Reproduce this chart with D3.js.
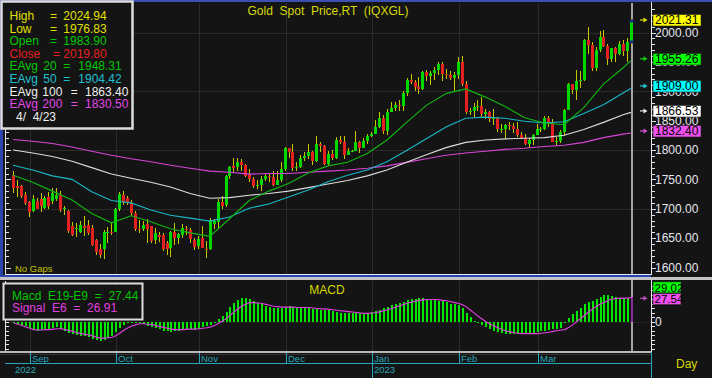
<!DOCTYPE html>
<html><head><meta charset="utf-8">
<script src="https://cdn.jsdelivr.net/npm/d3@7"></script>
<style>
html,body{margin:0;padding:0;background:#141414;overflow:hidden;}
svg{display:block;font-family:Arial,"Liberation Sans",sans-serif;}
text{white-space:pre;}
</style></head><body>
<svg id="c" width="712" height="378"></svg>
<script>
// ---------------- DATA ----------------
const dates = [
"2022-08-26","2022-08-29","2022-08-30","2022-08-31",
"2022-09-01","2022-09-02","2022-09-05","2022-09-06","2022-09-07","2022-09-08","2022-09-09","2022-09-12","2022-09-13","2022-09-14","2022-09-15","2022-09-16","2022-09-19","2022-09-20","2022-09-21","2022-09-22","2022-09-23","2022-09-26","2022-09-27","2022-09-28","2022-09-29","2022-09-30",
"2022-10-03","2022-10-04","2022-10-05","2022-10-06","2022-10-07","2022-10-10","2022-10-11","2022-10-12","2022-10-13","2022-10-14","2022-10-17","2022-10-18","2022-10-19","2022-10-20","2022-10-21","2022-10-24","2022-10-25","2022-10-26","2022-10-27","2022-10-28","2022-10-31",
"2022-11-01","2022-11-02","2022-11-03","2022-11-04","2022-11-07","2022-11-08","2022-11-09","2022-11-10","2022-11-11","2022-11-14","2022-11-15","2022-11-16","2022-11-17","2022-11-18","2022-11-21","2022-11-22","2022-11-23","2022-11-24","2022-11-25","2022-11-28","2022-11-29","2022-11-30",
"2022-12-01","2022-12-02","2022-12-05","2022-12-06","2022-12-07","2022-12-08","2022-12-09","2022-12-12","2022-12-13","2022-12-14","2022-12-15","2022-12-16","2022-12-19","2022-12-20","2022-12-21","2022-12-22","2022-12-23","2022-12-26","2022-12-27","2022-12-28","2022-12-29","2022-12-30",
"2023-01-02","2023-01-03","2023-01-04","2023-01-05","2023-01-06","2023-01-09","2023-01-10","2023-01-11","2023-01-12","2023-01-13","2023-01-16","2023-01-17","2023-01-18","2023-01-19","2023-01-20","2023-01-23","2023-01-24","2023-01-25","2023-01-26","2023-01-27","2023-01-30","2023-01-31",
"2023-02-01","2023-02-02","2023-02-03","2023-02-06","2023-02-07","2023-02-08","2023-02-09","2023-02-10","2023-02-13","2023-02-14","2023-02-15","2023-02-16","2023-02-17","2023-02-20","2023-02-21","2023-02-22","2023-02-23","2023-02-24","2023-02-27","2023-02-28",
"2023-03-01","2023-03-02","2023-03-03","2023-03-06","2023-03-07","2023-03-08","2023-03-09","2023-03-10","2023-03-13","2023-03-14","2023-03-15","2023-03-16","2023-03-17","2023-03-20","2023-03-21","2023-03-22","2023-03-23","2023-03-24","2023-03-27","2023-03-28","2023-03-29","2023-03-30","2023-03-31",
"2023-04-03","2023-04-04"];

const open = [
1757,1738,1738,1723,
1712,1696,1714,1716,1702,1720,1714,1716,1724,1700,1697,1670,1666,1661,1670,1672,1668,1646,1631,1631,1658,1661,
1661,1699,1723,1719,1710,1692,1666,1666,1674,1670,1647,1655,1656,1641,1634,1660,1650,1655,1665,1664,1647,
1636,1650,1632,1632,1674,1677,1712,1706,1756,1773,1771,1779,1774,1757,1751,1738,1740,1750,1755,1754,1741,1749,
1768,1803,1797,1769,1771,1786,1789,1797,1781,1810,1807,1777,1793,1787,1817,1814,1792,1798,1798,1814,1804,1815,
1824,1827,1839,1855,1833,1865,1871,1876,1875,1897,1920,1916,1908,1904,1932,1926,1931,1937,1946,1929,1928,1923,
1928,1950,1912,1865,1867,1873,1875,1861,1865,1853,1854,1836,1836,1842,1841,1835,1825,1821,1811,1817,
1826,1836,1836,1855,1847,1813,1815,1831,1868,1913,1902,1918,1919,1988,1979,1940,1970,1993,1977,1955,1973,1963,1980,
1969,1983.90];
const high = [
1765,1749,1740,1728,
1713,1723,1719,1726,1722,1729,1735,1735,1730,1705,1698,1678,1676,1680,1688,1681,1673,1648,1640,1663,1669,1675,
1702,1729,1730,1722,1715,1697,1681,1680,1683,1671,1667,1660,1658,1645,1662,1675,1659,1674,1670,1667,1650,
1653,1671,1645,1685,1683,1717,1722,1757,1773,1786,1787,1784,1776,1768,1754,1749,1756,1759,1761,1764,1764,1779,
1805,1804,1810,1780,1791,1796,1810,1798,1824,1813,1808,1798,1800,1822,1824,1823,1804,1800,1833,1815,1820,1827,
1830,1851,1865,1859,1870,1881,1881,1885,1901,1922,1929,1920,1925,1935,1937,1935,1942,1949,1949,1938,1935,1932,
1958,1960,1918,1871,1880,1885,1890,1870,1867,1870,1857,1845,1845,1847,1846,1847,1830,1827,1821,1828,
1844,1840,1858,1858,1852,1822,1834,1870,1914,1913,1937,1935,1989,2009,1983,1976,2003,2004,1980,1974,1975,1985,1987,
1990,2024.94];
const low = [
1727,1720,1719,1707,
1686,1694,1702,1695,1699,1700,1708,1714,1695,1690,1659,1654,1652,1659,1654,1656,1637,1622,1617,1614,1642,1655,
1660,1696,1707,1706,1688,1662,1658,1662,1642,1641,1640,1644,1628,1621,1618,1638,1640,1650,1655,1641,1629,
1632,1634,1616,1629,1665,1665,1700,1703,1750,1761,1764,1765,1754,1746,1735,1733,1731,1747,1746,1739,1740,1745,
1765,1787,1765,1765,1769,1781,1785,1775,1779,1797,1774,1775,1783,1784,1810,1784,1792,1796,1798,1795,1803,1810,
1822,1827,1838,1827,1825,1865,1866,1867,1867,1892,1912,1900,1896,1902,1918,1911,1920,1928,1918,1921,1919,1900,
1921,1909,1861,1860,1856,1866,1857,1853,1848,1842,1830,1829,1818,1834,1829,1822,1818,1809,1804,1809,
1826,1830,1834,1840,1813,1809,1812,1823,1868,1895,1885,1906,1918,1963,1935,1934,1967,1975,1944,1950,1950,1962,1960,
1950,1976.83];
const close = [
1736,1736,1721,1710,
1694,1717,1700,1705,1718,1705,1726,1724,1698,1702,1662,1656,1668,1672,1667,1658,1638,1626,1622,1660,1661,1660,
1699,1725,1712,1710,1692,1666,1664,1673,1665,1645,1658,1652,1631,1632,1660,1650,1657,1667,1663,1648,1635,
1649,1634,1629,1681,1680,1712,1705,1755,1771,1770,1779,1774,1755,1751,1738,1740,1750,1755,1754,1741,1749,1768,
1803,1797,1769,1771,1786,1789,1797,1781,1810,1807,1777,1793,1787,1817,1814,1792,1798,1798,1814,1804,1815,1824,
1827,1839,1855,1833,1865,1871,1876,1875,1897,1920,1916,1908,1904,1932,1926,1931,1937,1946,1929,1928,1923,1928,
1950,1912,1865,1867,1873,1875,1861,1865,1853,1854,1836,1836,1842,1841,1835,1825,1821,1811,1817,1826,
1836,1836,1855,1847,1813,1815,1831,1868,1913,1902,1918,1919,1988,1979,1940,1970,1993,1977,1955,1973,1963,1980,1969,
1984,2019.80];

const emaDates = ["2022-08-26","2022-09-02","2022-09-09","2022-09-16","2022-09-23","2022-09-30","2022-10-07","2022-10-14","2022-10-21","2022-10-28","2022-11-04","2022-11-11","2022-11-18","2022-11-25","2022-12-02","2022-12-09","2022-12-16","2022-12-23","2022-12-30","2023-01-06","2023-01-13","2023-01-20","2023-01-27","2023-02-03","2023-02-10","2023-02-17","2023-02-24","2023-03-03","2023-03-10","2023-03-17","2023-03-24","2023-03-31","2023-04-04"];
const ema20  = [1757,1745,1730,1715,1692,1676,1688,1678,1666,1659,1653,1683,1714,1730,1743,1761,1773,1779,1794,1817,1847,1876,1896,1904,1890,1874,1855,1846,1843,1872,1912,1940,1952];
const ema50  = [1774,1766,1756,1750,1729,1714,1710,1698,1689,1684,1679,1686,1701,1708,1720,1732,1746,1757,1766,1780,1799,1819,1839,1854,1856,1854,1849,1846,1848,1862,1877,1897,1905];
const ema100 = [1800,1795,1789,1781,1770,1759,1752,1745,1737,1726,1718,1719,1723,1726,1730,1736,1742,1748,1756,1766,1779,1792,1804,1813,1817,1819,1820,1821,1825,1835,1847,1860,1864];
const ema200 = [1818,1815,1811,1805,1798,1791,1785,1780,1774,1769,1764,1762,1759,1760,1760,1762,1764,1766,1769,1773,1779,1785,1791,1795,1798,1801,1803,1806,1808,1813,1821,1827,1829];

const macd = [
-2,-3,-4,-5,
-7,-9,-10,-9,-8,-8,-7,-6,-8,-10,-13,-14,-15,-16,-16,-17,-19,-21,-22,-20,-18,-16,
-12,-7,-4,-2,-1,0,-1,-3,-5,-6,-7,-8,-10,-11,-12,-11,-10,-9,-8,-8,-9,
-8,-6,-5,-4,-1,3,6,11,16,21,24,26,26,25,23,21,19,17,16,15,15,15,
16,17,16,15,16,15,15,14,14,13,13,13,12,11,10,10,10,9,9,9,8,9,
11,12,13,15,16,18,19,21,22,24,25,25,26,26,25,25,24,23,23,22,20,19,
18,15,10,5,1,-2,-4,-6,-8,-10,-12,-13,-14,-14,-14,-14,-14,-14,-13,-13,
-12,-11,-10,-9,-8,-8,-7,-1,4,8,12,15,19,22,23,25,27,29,29,28,27,26,26,
26,27.44];
const signal = [
-2,-3,-4.5,-6,
-7.5,-9,-9.5,-9.5,-9,-9,-8.5,-8,-8,-9,-10,-11,-12.5,-13.5,-14,-15,-16,-17.5,-18.5,-18.5,-18,-17.5,
-15.5,-12.5,-9.5,-7,-5,-3.5,-2.5,-2.5,-3,-3.5,-4.5,-5.5,-6.5,-7.5,-8.5,-9,-9,-9,-8.5,-8.5,-8.5,
-8,-7.5,-7,-6,-4.5,-2,0.5,3.5,7,11,14.5,17.5,19.5,21,21,20.5,20,19,18,17,16.5,16,
16,16,16,15.5,15.5,15.5,15.5,15,14.5,14,14,13.5,13,12.5,12,11.5,11,10.5,10,9.5,9,9,
9.5,10,11,12,13,14.5,16,17.5,19,20.5,21.5,22.5,23.5,24,24.5,24.5,24.5,24,23.5,23,22,21,
20,18.5,16,12.5,9,5.5,2.5,-0.5,-3,-5,-7,-9,-10.5,-11.5,-12.5,-13,-13.5,-13.5,-13.5,-13.5,
-13.5,-13,-12.5,-12,-11,-10,-9.5,-9,-6.5,-3.5,0,3.5,7,10.5,14,17,19.5,21.5,23.5,25,25.5,26,26,
26,26.91];

const priceTicks = [1600,1650,1700,1750,1800,1850,1900,1950,2000];
const priceGrid = [1700,1800,1900,2000];
const monthStarts = ["2022-09-01","2022-10-03","2022-11-01","2022-12-01","2023-01-02","2023-02-01","2023-03-01"];
const monthNames = ["Sep","Oct","Nov","Dec","Jan","Feb","Mar"];
const yearStarts = ["2022-08-26","2023-01-02"];
const yearNames = ["2022","2023"];

const lastValues = [2021.31,1955.26,1909.00,1866.53,1832.40];
const lastLabels = ["2021.31","1955.26","1909.00","1866.53","1832.40"];
const macdLastValues = [29.02,27.54];
const macdLastLabels = ["29.02","27.54"];

const legendNames  = ["High","Low","Open","Close","EAvg","EAvg","EAvg","EAvg"];
const legendPeriod = ["","","","","20","50","100","200"];
const legendValues = ["2024.94","1976.83","1983.90","2019.80","1948.31","1904.42","1863.40","1830.50"];
const legendDate = "4/  4/23";
const macdLegend = ["Macd  E19-E9  =  27.44","Signal  E6  =  26.91"];
const title = "Gold  Spot  Price,RT  (IQXGL)";

// ---------------- DRAW ----------------
const W = 712, H = 378;
const svg = d3.select("#c");
const x = d3.scalePoint().domain(dates).range([13, 631]);
const y = d3.scaleLinear().domain([1600, 2000]).range([267.5, 32.5]);
const ym = d3.scaleLinear().domain([0, 10]).range([321.5, 312.5]);

const C = {
  bg:"#141414", grid:"#2b2b2b", yellow:"#d8d800", green:"#00d800", red:"#e42020",
  wick:"#c8c800", e20:"#10b810", e50:"#18b8c8", e100:"#dcdcdc", e200:"#d844d8",
  axis:"#e6e6ee", cyan:"#2aa6b8", blue:"#2a44b0"
};

svg.append("rect").attr("width", W).attr("height", H).attr("fill", C.bg);

const grid = svg.append("g").attr("shape-rendering", "crispEdges");
grid.selectAll(".hg").data(priceGrid).join("line")
  .attr("x1", 5).attr("x2", 651).attr("y1", d => Math.round(y(d)) + 0.5).attr("y2", d => Math.round(y(d)) + 0.5)
  .attr("stroke", C.grid);
grid.selectAll(".vg").data(monthStarts).join("line")
  .attr("x1", d => Math.round(x(d)) + 1.5).attr("x2", d => Math.round(x(d)) + 1.5)
  .attr("y1", 3).attr("y2", 274).attr("stroke", C.grid);
grid.selectAll(".vg2").data(monthStarts).join("line")
  .attr("x1", d => Math.round(x(d)) + 1.5).attr("x2", d => Math.round(x(d)) + 1.5)
  .attr("y1", 281).attr("y2", 351).attr("stroke", C.grid);
grid.append("line").attr("x1", 5).attr("x2", 651).attr("y1", Math.round(ym(0)) + 0.5).attr("y2", Math.round(ym(0)) + 0.5)
  .attr("stroke", "#222");

// cursor line
const lastD = dates[dates.length - 1];
svg.append("rect").attr("x", Math.round(x(lastD)) + 0).attr("y", 3).attr("width", 2).attr("height", 349)
  .attr("fill", "#a4a4a4");

// candles
const cg = svg.append("g").attr("shape-rendering", "crispEdges");
dates.forEach((d, i) => {
  const cx = Math.round(x(d));
  cg.append("line").attr("x1", cx + 0.5).attr("x2", cx + 0.5)
    .attr("y1", y(high[i])).attr("y2", y(low[i])).attr("stroke", C.wick);
  const top = y(Math.max(open[i], close[i])), bot = y(Math.min(open[i], close[i]));
  cg.append("rect").attr("x", cx - 1).attr("width", 3)
    .attr("y", top).attr("height", Math.max(1, bot - top))
    .attr("fill", close[i] >= open[i] ? C.green : C.red);
});
// cursor markers on last candle
const li = dates.length - 1;
[open[li], close[li]].forEach(v => {
  svg.append("rect").attr("x", Math.round(x(lastD)) - 1.5).attr("y", y(v) - 1.5).attr("width", 4).attr("height", 3)
    .attr("fill", "#1c2a80");
});

// moving averages
const line = d3.line().x((d, i) => x(emaDates[i])).y(d => y(d));
[[ema200, C.e200], [ema100, C.e100], [ema50, C.e50], [ema20, C.e20]].forEach(([s, col]) => {
  svg.append("path").attr("d", line(s)).attr("fill", "none").attr("stroke", col).attr("stroke-width", 1.1);
});

// MACD bars
const mg = svg.append("g").attr("shape-rendering", "crispEdges");
mg.selectAll("rect").data(macd).join("rect")
  .attr("x", (d, i) => Math.round(x(dates[i])))
  .attr("width", 2)
  .attr("y", d => Math.min(ym(0), ym(d)))
  .attr("height", d => Math.max(1, Math.abs(ym(d) - ym(0))))
  .attr("fill", (d, i) => i === li ? "#8a2a9a" : "#00e800");
const sline = d3.line().x((d, i) => x(dates[i]) + 1).y(d => ym(d));
svg.append("path").attr("d", sline(signal)).attr("fill", "none").attr("stroke", "#e040e0").attr("stroke-width", 1.1);

// ---- frames ----
const fr = svg.append("g").attr("shape-rendering", "crispEdges");
fr.append("rect").attr("x", 0).attr("y", 0).attr("width", W).attr("height", 2).attr("fill", "#3c50b4");
fr.append("rect").attr("x", 0).attr("y", 0).attr("width", 3).attr("height", 277).attr("fill", C.blue);
fr.append("rect").attr("x", 0).attr("y", 274.5).attr("width", 651).attr("height", 2.5).attr("fill", C.blue);
fr.append("rect").attr("x", 0).attr("y", 277).attr("width", W).attr("height", 3).attr("fill", "#c4c4c4");
fr.append("line").attr("x1", 5.5).attr("x2", 5.5).attr("y1", 2).attr("y2", 274).attr("stroke", C.axis);
fr.append("line").attr("x1", 5).attr("x2", 651).attr("y1", 274).attr("y2", 274).attr("stroke", C.axis);
fr.append("line").attr("x1", 651.5).attr("x2", 651.5).attr("y1", 2).attr("y2", 274.5).attr("stroke", C.axis);
const minorP = d3.range(1600, 2041, 10);
fr.selectAll(".lt").data(minorP).join("line")
  .attr("x1", 6).attr("x2", d => d % 50 === 0 ? 11 : 8.5)
  .attr("y1", d => Math.round(y(d)) + 0.5).attr("y2", d => Math.round(y(d)) + 0.5).attr("stroke", C.axis);
fr.selectAll(".rt").data(minorP).join("line")
  .attr("x1", 652).attr("x2", d => d % 50 === 0 ? 656 : 654.5)
  .attr("y1", d => Math.round(y(d)) + 0.5).attr("y2", d => Math.round(y(d)) + 0.5).attr("stroke", C.axis);
fr.append("line").attr("x1", 5.5).attr("x2", 5.5).attr("y1", 281).attr("y2", 352).attr("stroke", C.axis);
fr.append("line").attr("x1", 651.5).attr("x2", 651.5).attr("y1", 280).attr("y2", 352).attr("stroke", C.axis);
fr.append("rect").attr("x", 0).attr("y", 351).attr("width", 651).attr("height", 2).attr("fill", "#b8b8b8");
fr.append("line").attr("x1", 0).attr("x2", 651).attr("y1", 354.5).attr("y2", 354.5).attr("stroke", "#333");
const minorM = d3.range(-30, 41, 5);
fr.selectAll(".mlt").data(minorM).join("line")
  .attr("x1", 6).attr("x2", 9)
  .attr("y1", d => Math.round(ym(d)) + 0.5).attr("y2", d => Math.round(ym(d)) + 0.5).attr("stroke", C.axis);
fr.selectAll(".mrt").data(minorM).join("line")
  .attr("x1", 652).attr("x2", 655)
  .attr("y1", d => Math.round(ym(d)) + 0.5).attr("y2", d => Math.round(ym(d)) + 0.5).attr("stroke", C.axis);

// time axis
fr.selectAll(".mt").data(monthStarts).join("line")
  .attr("x1", d => Math.round(x(d)) + 1.5).attr("x2", d => Math.round(x(d)) + 1.5)
  .attr("y1", 353).attr("y2", 363).attr("stroke", C.cyan);
fr.append("line").attr("x1", 5).attr("x2", 651).attr("y1", 363.5).attr("y2", 363.5).attr("stroke", C.cyan);
fr.append("line").attr("x1", 651.5).attr("x2", 651.5).attr("y1", 352).attr("y2", 378).attr("stroke", C.cyan);
fr.append("line").attr("x1", Math.round(x(yearStarts[1])) + 1.5).attr("x2", Math.round(x(yearStarts[1])) + 1.5)
  .attr("y1", 363).attr("y2", 378).attr("stroke", C.cyan);
svg.selectAll(".ml").data(monthStarts).join("text")
  .attr("x", d => Math.round(x(d)) + 3).attr("y", 362).attr("fill", C.cyan).attr("font-size", 9.5)
  .text((d, i) => monthNames[i]);
svg.append("text").attr("x", 15).attr("y", 372.5).attr("fill", C.cyan).attr("font-size", 9.5).text(yearNames[0]);
svg.append("text").attr("x", Math.round(x(yearStarts[1])) + 3).attr("y", 372.5).attr("fill", C.cyan).attr("font-size", 9.5).text(yearNames[1]);
svg.append("text").attr("x", 676).attr("y", 367.5).attr("fill", C.yellow).attr("font-size", 12).text("Day");

// titles
svg.append("text").attr("x", 328).attr("y", 15).attr("text-anchor", "middle").attr("fill", C.yellow)
  .attr("font-size", 12).text(title);
svg.append("text").attr("x", 327).attr("y", 293.5).attr("text-anchor", "middle").attr("fill", C.yellow)
  .attr("font-size", 12).text("MACD");
svg.append("text").attr("x", 15).attr("y", 272).attr("fill", "#c0c000").attr("font-size", 9.5).text("No Gaps");

// right price labels
svg.selectAll(".pl").data(priceTicks).join("text")
  .attr("x", 655).attr("y", d => y(d)).attr("dy", "0.36em").attr("fill", C.axis).attr("font-size", 12)
  .text(d => d.toFixed(2));
svg.append("text").attr("x", 655).attr("y", ym(0)).attr("dy", "0.36em").attr("fill", C.axis).attr("font-size", 12).text("0");

const boxCols = ["#ffff00", "#00ff00", "#00ffff", "#ffffff", "#f050f0"];
const arrowCols = ["#e0e000", "#10d010", "#20c8d8", "#e8e8e8", "#d850d8"];
lastValues.forEach((v, i) => {
  const yy = y(v);
  svg.append("rect").attr("x", 653).attr("y", Math.round(yy) - 5.5).attr("width", 48).attr("height", 11.5)
    .attr("fill", boxCols[i]).attr("stroke", "#222").attr("stroke-width", 0.6);
  svg.append("text").attr("x", 655).attr("y", yy).attr("dy", "0.36em").attr("fill", "#000").attr("font-size", 12)
    .text(lastLabels[i]);
  svg.append("path").attr("d", `M640,${yy}H644`).attr("stroke", arrowCols[i]).attr("stroke-width", 1.2);
  svg.append("path").attr("d", `M643.5,${yy - 2.5}L647.5,${yy}L643.5,${yy + 2.5}Z`).attr("fill", arrowCols[i]);
});
// MACD last labels
const mOff = [-8, 2.5];
const mCols = ["#00ff00", "#f050f0"];
macdLastValues.forEach((v, i) => {
  const yy = ym(v) + mOff[i];
  svg.append("rect").attr("x", 653).attr("y", yy - 5.5).attr("width", 28).attr("height", 11)
    .attr("fill", mCols[i]).attr("stroke", "#222").attr("stroke-width", 0.6);
  svg.append("text").attr("x", 654.5).attr("y", yy).attr("dy", "0.36em").attr("fill", "#000").attr("font-size", 11.5)
    .text(macdLastLabels[i]);
});
{
  const yy = ym(signal[li]) + 1;
  svg.append("path").attr("d", `M640,${yy}H644`).attr("stroke", "#c050c0").attr("stroke-width", 1.2);
  svg.append("path").attr("d", `M643.5,${yy - 2.5}L647.5,${yy}L643.5,${yy + 2.5}Z`).attr("fill", "#c050c0");
}

// main legend box
svg.append("rect").attr("x", 1.5).attr("y", 1.5).attr("width", 131).attr("height", 127)
  .attr("fill", C.bg).attr("stroke", "#dcdcdc").attr("stroke-width", 2.5);
const legCols = ["#e0e000", "#e0e000", "#00c800", "#e42020", "#00c800", "#20c0d0", "#f0f0f0", "#e048e8"];
const legY = [20, 32.6, 45.2, 57.8, 70.4, 83, 95.6, 108.2];
const eqX = [50, 50, 50, 53, 63.3, 63.3, 70.7, 70.7];
const valX = [63.3, 63.3, 63.3, 63.3, 78.3, 78.3, 85, 85];
legendNames.forEach((n, i) => {
  const t = svg.append("g").attr("fill", legCols[i]).attr("font-size", 12);
  t.append("text").attr("x", 9.5).attr("y", legY[i]).text(n);
  if (legendPeriod[i]) t.append("text").attr("x", legendPeriod[i].length > 2 ? 42.3 : 43.3).attr("y", legY[i]).text(legendPeriod[i]);
  t.append("text").attr("x", eqX[i]).attr("y", legY[i]).text("=");
  t.append("text").attr("x", valX[i]).attr("y", legY[i]).text(legendValues[i]);
});
svg.append("text").attr("x", 16).attr("y", 120.8).attr("fill", "#f0f0f0").attr("font-size", 12).text(legendDate);

// MACD legend box
svg.append("rect").attr("x", 3.5).attr("y", 283.5).attr("width", 139).attr("height", 36)
  .attr("fill", C.bg).attr("stroke", "#dcdcdc").attr("stroke-width", 2);
svg.append("text").attr("x", 12).attr("y", 299.5).attr("fill", "#00c800").attr("font-size", 12).text(macdLegend[0]);
svg.append("text").attr("x", 12).attr("y", 312).attr("fill", "#e040e0").attr("font-size", 12).text(macdLegend[1]);
</script>
</body></html>
